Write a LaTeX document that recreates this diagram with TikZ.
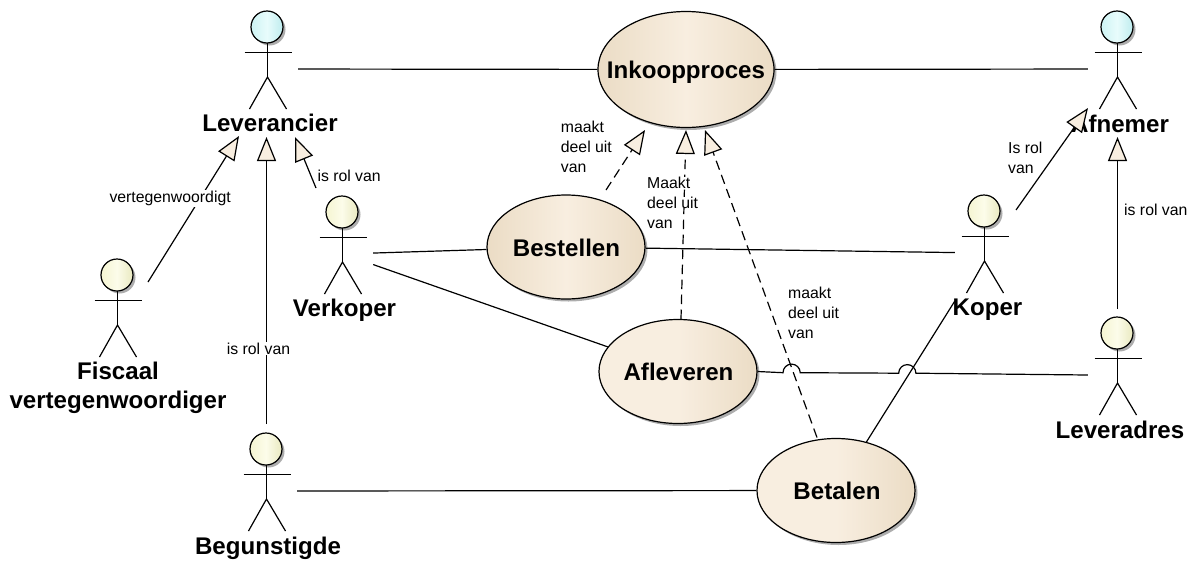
\documentclass[tikz,border=0pt]{standalone}
\usepackage{fontspec}
\setmainfont{Liberation Sans}
\usetikzlibrary{arrows.meta,shadows,calc,shapes.geometric}
\definecolor{genfill}{HTML}{F8EEE0}
\definecolor{cyanL}{HTML}{CDF3F3}
\definecolor{cyanM}{HTML}{E8FCFC}
\definecolor{cyanR}{HTML}{BEECEE}
\definecolor{yelL}{HTML}{F5F5D2}
\definecolor{yelM}{HTML}{FCFCEA}
\definecolor{yelR}{HTML}{E9E9C0}
\definecolor{tanE}{HTML}{EBDCC5}
\definecolor{tanM}{HTML}{F8EEE0}
\setlength{\fboxsep}{0pt}
\tikzset{
  stick/.style={draw=black,line width=1.2pt,line cap=butt},
  shad/.style={drop shadow={shadow xshift=2.5pt,shadow yshift=-2.5pt,fill=black,opacity=0.32}},
  headcyan/.style={circle,draw=black,line width=1.2pt,minimum size=32pt,inner sep=0pt,shad,left color=cyanL,right color=cyanR,middle color=cyanM},
  headyel/.style={circle,draw=black,line width=1.2pt,minimum size=32pt,inner sep=0pt,shad,left color=yelL,right color=yelR,middle color=yelM},
  actorbox/.style={rectangle,minimum width=60pt,minimum height=100pt,inner sep=0pt,draw=none},
  usecase/.style={ellipse,draw=black,line width=1.2pt,inner sep=0pt,shad,minimum width=#1},
  usecase/.default=158pt,
  tandark/.style={left color=tanE,right color=tanE,middle color=tanM},
  tanlight/.style={left color=tanM,right color=tanE,middle color=tanM},
  biglbl/.style={anchor=base,inner sep=0pt,align=center,font=\fontsize{24.1}{28.7}\selectfont\bfseries},
  smalllbl/.style={anchor=base west,inner sep=0pt,align=left,font=\fontsize{15.8}{20}\selectfont},
  whitelbl/.style={smalllbl,fill=white,inner sep=1pt},
  assoc/.style={draw=black,line width=1.2pt},
  gen/.style={draw=black,line width=1.2pt,-{Triangle[length=24pt,width=19pt,fill=genfill]}},
  gendash/.style={gen,dash pattern=on 9.5pt off 5.5pt},
}
\newcommand\actorfig[5]{%
  \node[actorbox] (#1) at ({#2+1},{#3+42}) {};
  \begin{scope}[shift={(#2,#3)}]
    \draw[stick] (-22.5,25.5) -- (24.5,25.5);
    \draw[stick] (0.5,16) -- (0.5,50);
    \draw[stick] (-17.5,82) -- (0.5,50) -- (19.5,82);
    \node[#4] (#1head) at (0,0) {};
  \end{scope}
  \node[biglbl] (#1lbl) at #5;
}
\begin{document}
\begin{tikzpicture}[x=1pt,y=-1pt]
\useasboundingbox (0,0) rectangle (1195,560);
\actorfig{lev}{267}{27}{headcyan}{(270,131.7) {Leverancier}}
\actorfig{afn}{1117}{27}{headcyan}{(1120,132) {Afnemer}}
\actorfig{ver}{342}{212}{headyel}{(344.5,316.7) {Verkoper}}
\actorfig{fis}{117}{275}{headyel}{(118,408) {Fiscaal\\vertegenwoordiger}}
\actorfig{beg}{266}{449}{headyel}{(268,554) {Begunstigde}}
\actorfig{kop}{984}{211}{headyel}{(987.5,315) {Koper}}
\actorfig{lad}{1117}{333}{headyel}{(1120,438) {Leveradres}}

\node[usecase=176pt,minimum height=116pt,tandark] (ink) at (686,69.5) {};
\node[usecase,minimum height=104pt,tandark] (bes) at (566,247) {};
\node[usecase,minimum height=104pt,tanlight] (afl) at (678,371.5) {};
\node[usecase,minimum height=104pt,tanlight] (bet) at (836,490.5) {};
\node[biglbl] (inklbl) at (686,78.7) {Inkoopproces};
\node[biglbl] (beslbl) at (566.5,256.7) {Bestellen};
\node[biglbl] (afllbl) at (678.5,380) {Afleveren};
\node[biglbl] (betlbl) at (837,499) {Betalen};

\draw[assoc] (lev) -- (ink);
\draw[assoc] (ink) -- (afn);
\draw[assoc] (ver) -- (bes);
\draw[assoc] (ver) -- (afl);
\draw[assoc] (bes) -- (kop);
\draw[assoc] (beg) -- (bet);
\draw[assoc] (bet) -- (kop);
\coordinate (j1) at (783,372.7);
\coordinate (j2) at (898.7,373.2);
\draw[assoc] (afl.east) -- (j1) arc[start angle=180,end angle=0,radius=8.6pt] -- (j2) arc[start angle=180,end angle=0,radius=8.6pt] -- (lad.west);

\draw[gen] ([shift={(-27,-66)}]ver.center) -- ([shift={(27,68)}]lev.center);
\draw[gen] ([shift={(30,-35)}]fis.center) -- ([shift={(-29,67)}]lev.center);
\draw[gen] ([shift={(-0.5,-67)}]beg.center) -- ([shift={(-1.5,68)}]lev.center);
\draw[gen] ([shift={(31,-43)}]kop.center) -- ([shift={(-30,39)}]afn.center);
\draw[gen] ([shift={(-0.5,-66)}]lad.center) -- ([shift={(-0.5,68)}]afn.center);
\draw[gendash] ([shift={(40,-57)}]bes.center) -- ([shift={(-41,60.5)}]ink.center);
\draw[gendash] ([shift={(3,-52.5)}]afl.center) -- ([shift={(0,60.5)}]ink.center);
\draw[gendash] ([shift={(-19,-53)}]bet.center) -- ([shift={(19,60.5)}]ink.center);

\node[smalllbl] (t1) at (560.7,172.7) {maakt\\deel uit\\van};
\node[smalllbl] (t2) at (647,228.3) {\colorbox{white}{Maakt}\\\colorbox{white}{deel uit}\\van};
\node[smalllbl] (t3) at (788,338) {maakt\\deel uit\\van};
\node[whitelbl] (t4) at (108.3,202.5) {vertegenwoordigt};
\node[smalllbl] (t5) at (317.3,181.7) {is rol van};
\node[whitelbl] (t6) at (225.7,354) {is rol van};
\node[smalllbl] (t7) at (1008,173.3) {Is rol\\van};
\node[smalllbl] (t8) at (1124,215) {is rol van};
\end{tikzpicture}
\end{document}
